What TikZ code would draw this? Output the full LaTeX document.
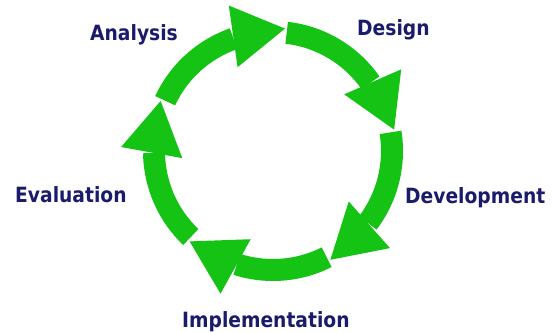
\documentclass[tikz,border=0pt]{standalone}
\usepackage{fontspec}
\newfontfamily\labelfont[FakeStretch=0.89]{DejaVu Sans Bold}
\definecolor{cyclegreen}{RGB}{20,195,20}
\definecolor{labelnavy}{RGB}{27,27,107}
\begin{document}
\begin{tikzpicture}[x=1pt,y=1pt,
  stage/.style={font=\labelfont\fontsize{21}{25}\selectfont, text=labelnavy,
                inner sep=0pt, anchor=base west},
  band/.style={fill=cyclegreen},
  head/.style={fill=cyclegreen}]
\useasboundingbox (0,0) rectangle (552,-332);

% five curved arrows around the cycle, clockwise
\begin{scope}[shift={(273,-151)}]
  \def\Rout{130}
  \def\Rin{108}
  \foreach \prev/\tip in {156/84.4, 84.4/10, 10/-62.2, -62.2/-132.7, -132.7/-204} {
    \pgfmathsetmacro\s{\prev-1}
    \pgfmathsetmacro\e{\tip+25}
    \pgfmathsetmacro\ho{\tip+22.5}
    \pgfmathsetmacro\hi{\tip+28.5}
    % shaft of the arrow
    \fill[band] (\s:\Rout) arc[start angle=\s, end angle=\e, radius=\Rout]
       -- (\e:\Rin) arc[start angle=\e, end angle=\s, radius=\Rin] -- cycle;
    % arrowhead
    \fill[head] (\tip:123) -- (\ho:152) -- (\hi:91) -- cycle;
  }
\end{scope}

% stage labels
\node[stage] (analysis) at (90,-40) {Analysis};
\node[stage] (design) at (357,-35) {Design};
\node[stage] (development) at (405,-203) {Development};
\node[stage] (implementation) at (182,-327) {Implementation};
\node[stage] (evaluation) at (15,-202) {Evaluation};
\end{tikzpicture}
\end{document}
